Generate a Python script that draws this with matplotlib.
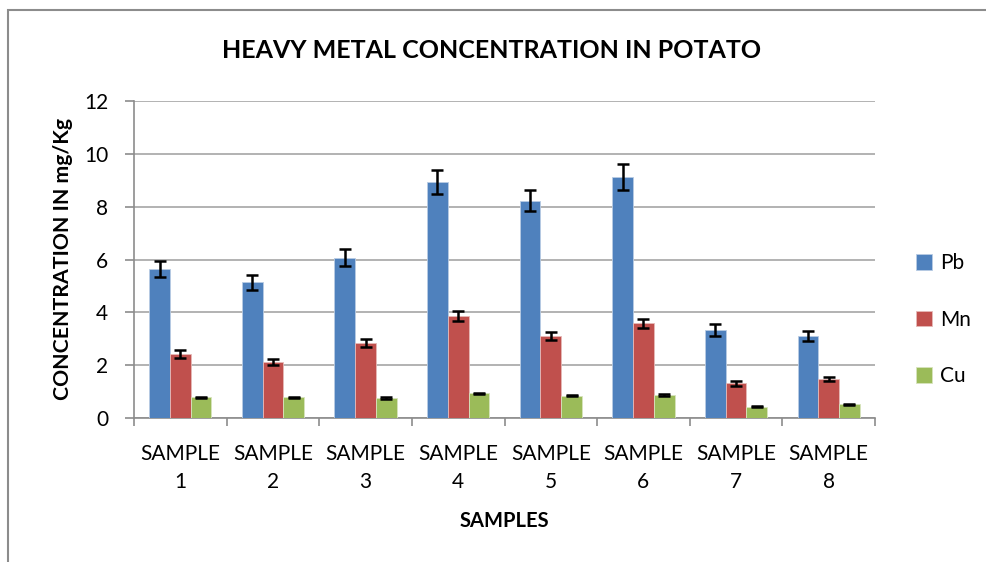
import numpy as np
import matplotlib
matplotlib.use("Agg")
import matplotlib.pyplot as plt
from matplotlib.patches import Rectangle

samples = ["SAMPLE\n1", "SAMPLE\n2", "SAMPLE\n3", "SAMPLE\n4",
           "SAMPLE\n5", "SAMPLE\n6", "SAMPLE\n7", "SAMPLE\n8"]
pb = [5.64, 5.13, 6.07, 8.94, 8.23, 9.13, 3.33, 3.11]
mn = [2.44, 2.11, 2.83, 3.86, 3.09, 3.58, 1.31, 1.47]
cu = [0.78, 0.78, 0.75, 0.93, 0.85, 0.88, 0.42, 0.52]
pb_err = [0.30, 0.27, 0.32, 0.45, 0.40, 0.50, 0.22, 0.20]
mn_err = [0.15, 0.12, 0.15, 0.18, 0.15, 0.18, 0.10, 0.08]
cu_err = [0.03, 0.03, 0.03, 0.03, 0.03, 0.03, 0.02, 0.02]

plt.rcParams['font.family'] = ['Lato', 'DejaVu Sans']

fig = plt.figure(figsize=(9.87, 5.62), dpi=100)
W, H = 987, 562
ax = fig.add_axes([134 / W, 1 - 418 / H, (875 - 134) / W, (418 - 101) / H])

# outer chart frame
fig.patches.append(Rectangle((8 / W, -0.02), 1.0, 1 - 10 / H + 0.02,
                             transform=fig.transFigure, fill=False,
                             edgecolor='#8c8c8c', linewidth=1.5))

x = np.arange(len(samples))
w = 0.224
err_kw = dict(ecolor='black', elinewidth=1.8, capsize=4, capthick=1.8)
ax.bar(x - w, pb, w, yerr=pb_err, color='#4f81bd', edgecolor='#b8cce4',
       linewidth=0.6, label='Pb', error_kw=err_kw, zorder=3)
ax.bar(x, mn, w, yerr=mn_err, color='#c0504d', edgecolor='#e6b9b8',
       linewidth=0.6, label='Mn', error_kw=err_kw, zorder=3)
ax.bar(x + w, cu, w, yerr=cu_err, color='#9bbb59', edgecolor='#d7e4bd',
       linewidth=0.6, label='Cu', error_kw=err_kw, zorder=3)

ax.set_xlim(-0.5, len(samples) - 0.5)
ax.set_ylim(0, 12)
ax.set_yticks(range(0, 13, 2))
ax.yaxis.grid(True, color='#a6a6a6', linewidth=1.2, zorder=0)
ax.set_axisbelow(True)

ax.set_xticks(x)
ax.set_xticklabels(samples, fontsize=15, linespacing=1.45)
ax.set_xticks(np.arange(-0.5, len(samples)), minor=True)
ax.tick_params(axis='x', which='major', length=0, pad=19)
ax.tick_params(axis='x', which='minor', length=6, color='#8c8c8c', width=1.2)
ax.tick_params(axis='y', length=6.5, color='#8c8c8c', width=1.2, labelsize=15, pad=12)

for s in ['top', 'right']:
    ax.spines[s].set_visible(False)
for s in ['left', 'bottom']:
    ax.spines[s].set_color('#8c8c8c')
    ax.spines[s].set_linewidth(1.2)

ax.set_ylabel('CONCENTRATION IN mg/Kg', fontsize=15.3, fontweight='bold', labelpad=8)
ax.set_xlabel('SAMPLES', fontsize=14.5, fontweight='bold', labelpad=14)
fig.text(492 / W, 1 - 50 / H, 'HEAVY METAL CONCENTRATION IN POTATO',
         ha='center', va='center', fontsize=18, fontweight='bold')

leg = ax.legend(loc='center left', bbox_to_anchor=(1.03, 0.31), frameon=False,
                fontsize=15, handlelength=0.75, handleheight=0.75,
                labelspacing=1.75, handletextpad=0.4)

fig.savefig('out.png', dpi=100)
